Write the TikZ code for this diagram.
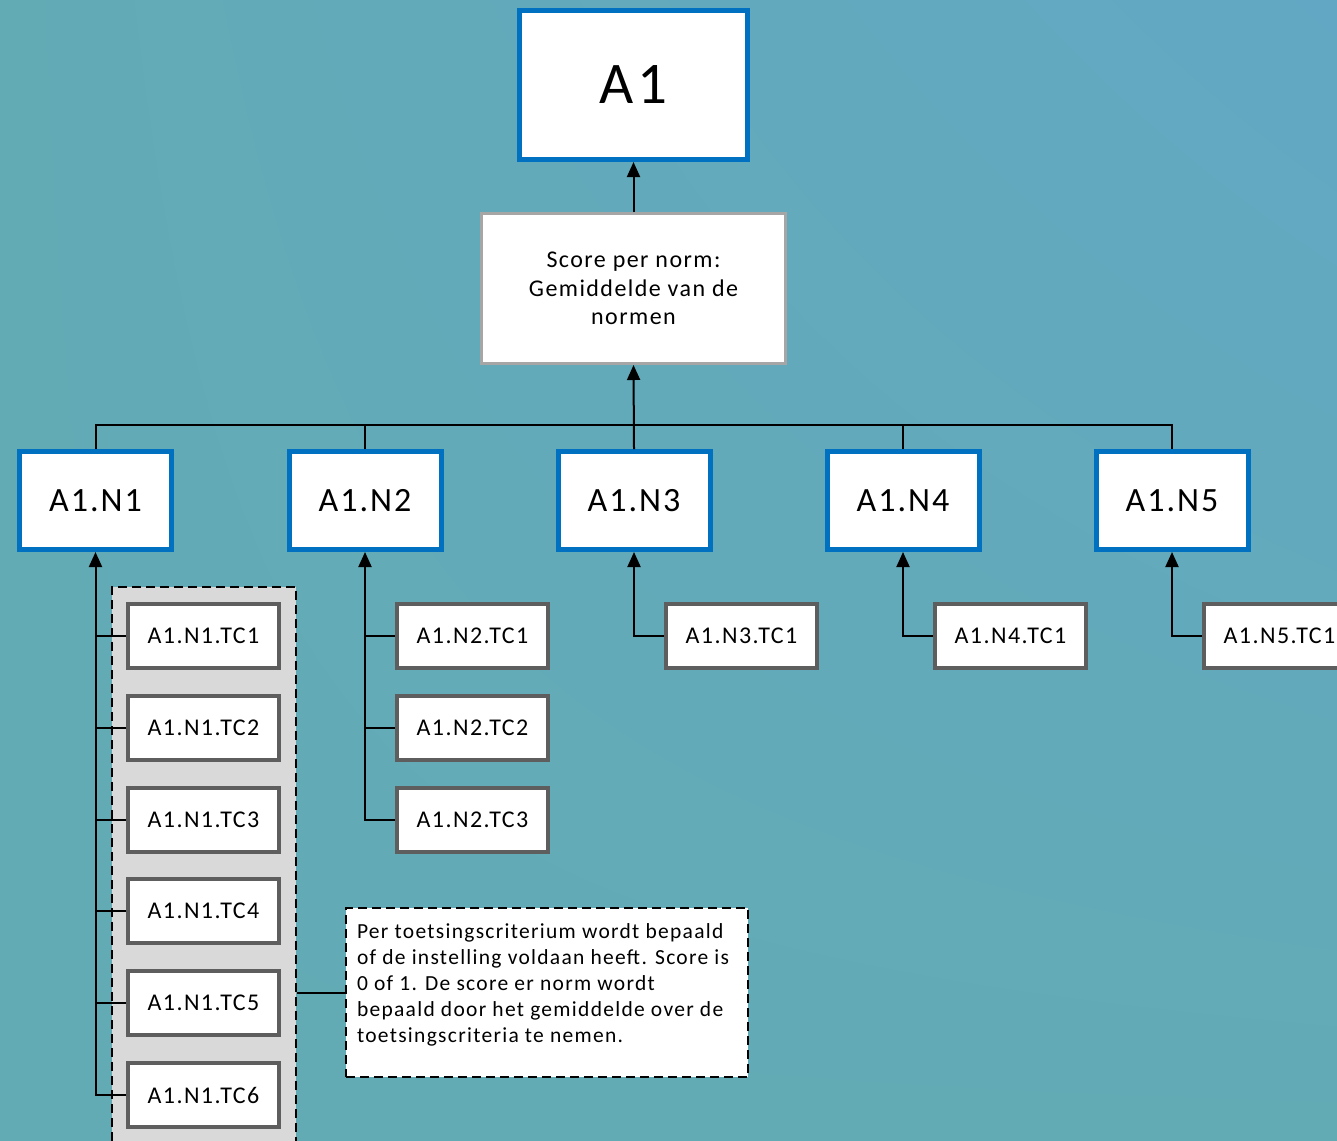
\documentclass[tikz,border=0pt]{standalone}
\usepackage{fontspec}
\setmainfont[LetterSpace=6]{Carlito}
\usetikzlibrary{arrows.meta,shadings}

\definecolor{bgteal}{RGB}{98,171,181}
\definecolor{bgblue}{RGB}{98,168,196}
\definecolor{boxblue}{RGB}{0,112,192}
\definecolor{scoregray}{RGB}{166,166,166}
\definecolor{critgray}{RGB}{94,94,94}
\definecolor{groupgray}{RGB}{217,217,217}

\begin{document}
\begin{tikzpicture}[x=1pt, y=-1pt,
    attr/.style={draw=boxblue, line width=5pt, fill=white, minimum width=228pt, minimum height=149pt, font=\fontsize{59}{70}\selectfont},
    norm/.style={draw=boxblue, line width=5pt, fill=white, minimum width=152pt, minimum height=98pt, font=\fontsize{34}{40}\selectfont},
    crit/.style={draw=critgray, line width=4pt, fill=white, minimum width=151pt, minimum height=64pt, font=\fontsize{24}{28}\selectfont},
    link/.style={line width=2pt},
    arrow/.style={link, -{Triangle[length=15pt,width=13pt]}}]

    % Page and background
    \useasboundingbox (0,0) rectangle (1337,1140);
    \clip (0,0) rectangle (1337,1140);
    \shade[upper left=bgteal, upper right=bgblue, lower left=bgteal, lower right=bgteal] (0,0) rectangle (1337,1140);

    % Top of the tree
    \node[attr] (a1) at (633.5,85) {A1};
    \node[draw=scoregray, line width=3pt, fill=white, minimum width=304pt, minimum height=150pt, align=center,
          font=\fontsize{24}{28.5}\selectfont] (score) at (633.5,288.5) {Score per norm:\\Gemiddelde van de\\normen};

    % Norms
    \node[norm] (n1) at (95.5,500.5) {A1.N1};
    \node[norm] (n2) at (365,500.5) {A1.N2};
    \node[norm] (n3) at (634,500.5) {A1.N3};
    \node[norm] (n4) at (903,500.5) {A1.N4};
    \node[norm] (n5) at (1172,500.5) {A1.N5};

    % Grey group behind the criteria of N1
    \node[draw, fill=groupgray, line width=1.5pt, dash pattern=on 9pt off 5pt, minimum width=184pt, minimum height=613pt] (n1group) at (204,893.5) {};

    % Criteria
    \node[crit] (n1tc1) at (203.5,636) {A1.N1.TC1};
    \node[crit] (n1tc2) at (203.5,728) {A1.N1.TC2};
    \node[crit] (n1tc3) at (203.5,819.5) {A1.N1.TC3};
    \node[crit] (n1tc4) at (203.5,911) {A1.N1.TC4};
    \node[crit] (n1tc5) at (203.5,1003) {A1.N1.TC5};
    \node[crit] (n1tc6) at (203.5,1095) {A1.N1.TC6};
    \node[crit] (n2tc1) at (472.5,636) {A1.N2.TC1};
    \node[crit] (n2tc2) at (472.5,728) {A1.N2.TC2};
    \node[crit] (n2tc3) at (472.5,819.5) {A1.N2.TC3};
    \node[crit] (n3tc1) at (741.5,636) {A1.N3.TC1};
    \node[crit] (n4tc1) at (1010.5,636) {A1.N4.TC1};
    \node[crit] (n5tc1) at (1279.5,636) {A1.N5.TC1};

    % Explanation
    \node[draw, fill=white, line width=1.5pt, dash pattern=on 9pt off 5pt, inner sep=11pt,
          font=\fontsize{21.5}{26}\selectfont] (note) at (547,992.5)
        {\parbox[c][147pt][t]{380pt}{\vspace*{5pt}\raggedright Per toetsingscriterium wordt bepaald\\of de instelling voldaan heeft. Score is\\0 of 1. De score er norm wordt\\bepaald door het gemiddelde over de\\toetsingscriteria te nemen.}};

    % Connectors up the tree
    \draw[arrow] (score) -- (a1);
    \coordinate (bus) at (634,425);
    \draw[link] (n1.north) |- (bus) -| (n5.north);
    \draw[link] (n2.north) -- (n2.north |- bus);
    \draw[link] (n4.north) -- (n4.north |- bus);
    \draw[arrow] (n3.north) -- (score.south);

    % Connectors from the criteria
    \draw[arrow] (n1tc6.west) -| (n1.south);
    \draw[link] (n1tc1.west) -- (n1tc1.west -| n1.south);
    \draw[link] (n1tc2.west) -- (n1tc2.west -| n1.south);
    \draw[link] (n1tc3.west) -- (n1tc3.west -| n1.south);
    \draw[link] (n1tc4.west) -- (n1tc4.west -| n1.south);
    \draw[link] (n1tc5.west) -- (n1tc5.west -| n1.south);
    \draw[arrow] (n2tc3.west) -| (n2.south);
    \draw[link] (n2tc1.west) -- (n2tc1.west -| n2.south);
    \draw[link] (n2tc2.west) -- (n2tc2.west -| n2.south);
    \draw[arrow] (n3tc1.west) -| (n3.south);
    \draw[arrow] (n4tc1.west) -| (n4.south);
    \draw[arrow] (n5tc1.west) -| (n5.south);
    \draw[link] (note.west) -- (note.west -| n1group.east);
\end{tikzpicture}
\end{document}
